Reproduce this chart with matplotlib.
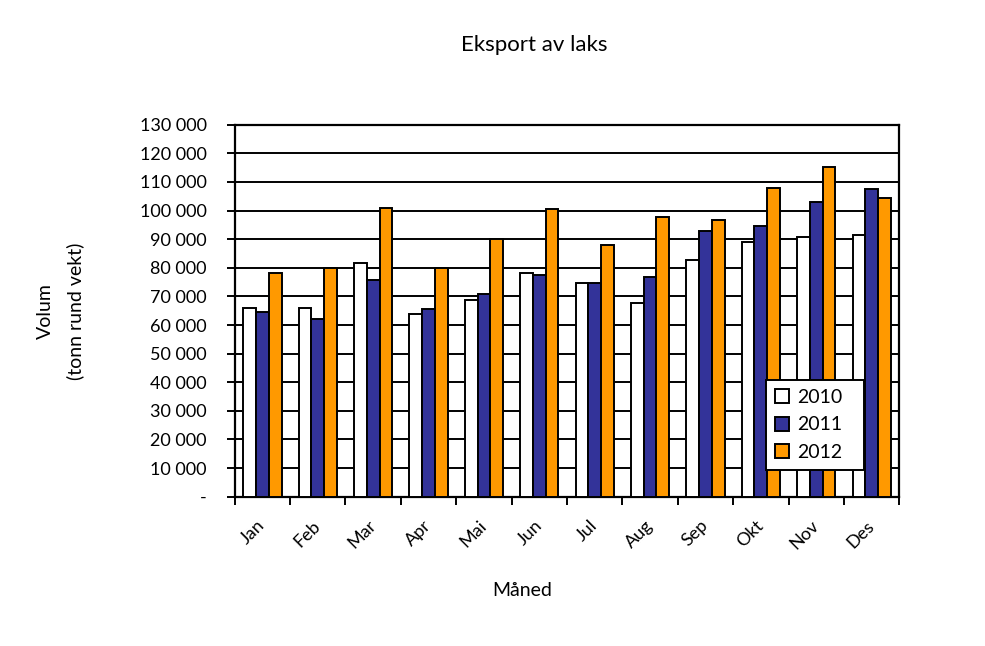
import matplotlib
matplotlib.use("Agg")
import matplotlib.pyplot as plt
import numpy as np
from matplotlib.ticker import FuncFormatter

months = ["Jan", "Feb", "Mar", "Apr", "Mai", "Jun", "Jul", "Aug", "Sep", "Okt", "Nov", "Des"]
v2010 = [66000, 66000, 81700, 64000, 68700, 78200, 74700, 67800, 82800, 89100, 90900, 91600]
v2011 = [64500, 62200, 75700, 65700, 70900, 77500, 74700, 76900, 93000, 94600, 103100, 107600]
v2012 = [78200, 79800, 101000, 79800, 90000, 100500, 88000, 97900, 96800, 108000, 115200, 104500]
series = [("2010", v2010, "#FFFFFF"), ("2011", v2011, "#333399"), ("2012", v2012, "#FF9900")]

plt.rcParams['font.family'] = ['Lato', 'DejaVu Sans']

fig = plt.figure(figsize=(9.85, 6.46), dpi=100)
ax = fig.add_axes([0.2383, 0.2311, 0.6747, 0.5759])

x = np.arange(len(months))
w = 0.23
for i, (name, vals, col) in enumerate(series):
    ax.bar(x + (i - 1) * w, vals, width=w, color=col, edgecolor="black", linewidth=1.4, label=name, zorder=3)

ax.set_xlim(-0.5, len(months) - 0.5)
ax.set_ylim(0, 130000)
ax.set_yticks(np.arange(0, 130001, 10000))

def fmt(v, pos):
    if v == 0:
        return "-"
    return f"{int(v):,}".replace(",", " ")
ax.yaxis.set_major_formatter(FuncFormatter(fmt))
ax.yaxis.grid(True, color="black", linewidth=1.4, zorder=0)
ax.set_axisbelow(True)

ax.set_xticks(x)
ax.set_xticklabels(months, rotation=45, ha="right", va="center", rotation_mode="anchor", fontsize=13)
ax.tick_params(axis="x", which="major", length=0, pad=19)
ax.set_xticks(np.arange(-0.5, len(months)), minor=True)
ax.tick_params(axis="x", which="minor", length=6, width=1.4, direction="out")
ax.tick_params(axis="y", length=6, width=1.4, direction="out", labelsize=13, pad=14)

for s in ax.spines.values():
    s.set_linewidth(1.6)
    s.set_color("black")

fig.text(0.542, 0.930, "Eksport av laks", ha="center", va="center", fontsize=16)
fig.text(0.530, 0.086, "Måned", ha="center", va="center", fontsize=14)
fig.text(0.0457, 0.518, "Volum", rotation=90, ha="center", va="center", fontsize=14)
fig.text(0.0762, 0.518, "(tonn rund vekt)", rotation=90, ha="center", va="center", fontsize=14)

leg = ax.legend(loc="upper left", bbox_to_anchor=(0.7994, 0.3138, 0.1475, 0.0), mode="expand",
                frameon=True, fancybox=False, fontsize=14, handlelength=0.75, handleheight=0.75,
                handletextpad=0.4, borderaxespad=0, labelspacing=0.55, borderpad=0.45)
leg.get_frame().set_edgecolor("black")
leg.get_frame().set_linewidth(1.4)
leg.get_frame().set_alpha(1)
leg.set_zorder(5)

fig.savefig("out.png", dpi=100)
